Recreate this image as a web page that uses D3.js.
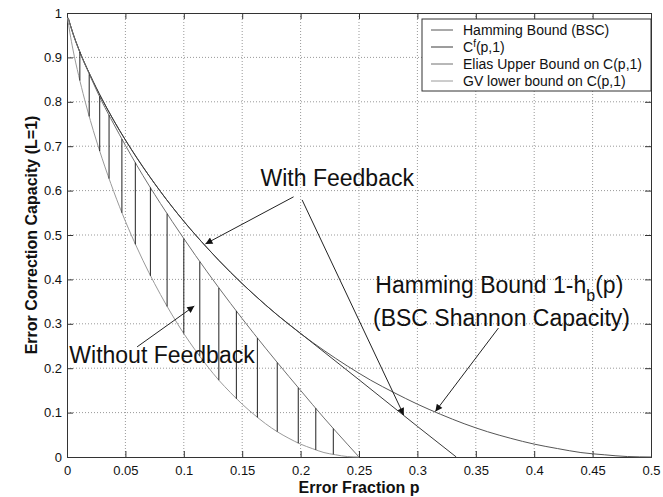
<!DOCTYPE html>
<html>
<head>
<meta charset="utf-8">
<script src="https://cdn.jsdelivr.net/npm/d3@7"></script>
<style>
  body { margin: 0; background: #fff; }
  svg { display: block; font-family: "Liberation Sans", Arial, sans-serif; }
</style>
</head>
<body>
<div class="chart"></div>
<script>
"use strict";

// values
const xTicks = [0, 0.05, 0.1, 0.15, 0.2, 0.25, 0.3, 0.35, 0.4, 0.45, 0.5];
const yTicks = [0, 0.1, 0.2, 0.3, 0.4, 0.5, 0.6, 0.7, 0.8, 0.9, 1];

const hammingP = [0.001, 0.005, 0.01, 0.02, 0.03, 0.04, 0.05, 0.06, 0.08, 0.10, 0.12, 0.14, 0.16, 0.18, 0.20, 0.22, 0.24, 0.26, 0.28, 0.30, 0.32, 0.34, 0.36, 0.38, 0.40, 0.42, 0.44, 0.46, 0.48, 0.50];
const hammingC = [0.989, 0.955, 0.919, 0.859, 0.806, 0.758, 0.714, 0.673, 0.598, 0.531, 0.471, 0.416, 0.366, 0.320, 0.278, 0.240, 0.205, 0.173, 0.145, 0.119, 0.096, 0.075, 0.057, 0.042, 0.029, 0.019, 0.010, 0.005, 0.001, 0];

const feedbackP = [0.001, 0.005, 0.01, 0.02, 0.03, 0.04, 0.05, 0.06, 0.08, 0.10, 0.12, 0.14, 0.16, 0.18, 0.191, 0.25, 0.30, 0.3333];
const feedbackC = [0.989, 0.955, 0.919, 0.859, 0.806, 0.758, 0.714, 0.673, 0.598, 0.531, 0.471, 0.416, 0.366, 0.320, 0.297, 0.174, 0.069, 0];

const eliasP = [0.001, 0.005, 0.01, 0.02, 0.03, 0.04, 0.05, 0.06, 0.08, 0.10, 0.12, 0.14, 0.16, 0.18, 0.20, 0.22, 0.24, 0.25];
const eliasC = [0.989, 0.954, 0.918, 0.857, 0.800, 0.750, 0.702, 0.656, 0.571, 0.492, 0.417, 0.346, 0.278, 0.213, 0.150, 0.088, 0.029, 0];

const gvP = [0.0005, 0.0025, 0.005, 0.01, 0.015, 0.02, 0.025, 0.03, 0.04, 0.05, 0.06, 0.07, 0.08, 0.09, 0.10, 0.11, 0.12, 0.13, 0.14, 0.15, 0.16, 0.17, 0.18, 0.19, 0.20, 0.21, 0.22, 0.23, 0.24, 0.25];
const gvC = [0.989, 0.955, 0.919, 0.859, 0.806, 0.758, 0.714, 0.673, 0.598, 0.531, 0.471, 0.416, 0.366, 0.320, 0.278, 0.240, 0.205, 0.173, 0.145, 0.119, 0.096, 0.075, 0.057, 0.042, 0.029, 0.019, 0.010, 0.005, 0.001, 0];

// vertical hatch between the Elias and GV bounds
const hatchP = [0.011, 0.019, 0.028, 0.036, 0.047, 0.0585, 0.0714, 0.0857, 0.100, 0.1137, 0.130, 0.145, 0.163, 0.180, 0.198, 0.213, 0.228];
const hatchTop = [0.912, 0.862, 0.812, 0.770, 0.716, 0.663, 0.607, 0.548, 0.492, 0.440, 0.381, 0.329, 0.268, 0.213, 0.156, 0.110, 0.064];
const hatchBottom = [0.848, 0.767, 0.689, 0.627, 0.550, 0.479, 0.408, 0.339, 0.278, 0.227, 0.173, 0.131, 0.089, 0.057, 0.031, 0.016, 0.006];

const legendNames = ["Hamming Bound (BSC)", "Cf(p,1)", "Elias Upper Bound on C(p,1)", "GV lower bound on C(p,1)"];
const seriesColors = ["#555", "#3a3a3a", "#707070", "#9a9a9a"];

const margin = {top: 13, right: 12, bottom: 40, left: 67};
const width = 663 - margin.left - margin.right;
const height = 497 - margin.top - margin.bottom;

const x = d3.scaleLinear().domain([0, 0.5]).range([0, width]);
const y = d3.scaleLinear().domain([0, 1]).range([height, 0]);

const svg = d3.select(".chart").append("svg")
    .attr("width", 663)
    .attr("height", 497);

const defs = svg.append("defs");
defs.append("marker")
    .attr("id", "arrow")
    .attr("viewBox", "0 0 10 10")
    .attr("refX", 10).attr("refY", 5)
    .attr("markerWidth", 9).attr("markerHeight", 7)
    .attr("markerUnits", "userSpaceOnUse")
    .attr("orient", "auto")
    .append("path")
    .attr("d", "M0,0 L10,5 L0,10 z")
    .style("fill", "#111");

const g = svg.append("g")
    .attr("transform", "translate(" + margin.left + "," + margin.top + ")");

// dotted grid
g.append("g").selectAll("line")
    .data(xTicks.slice(1, -1))
    .enter().append("line")
    .attr("x1", d => x(d)).attr("x2", d => x(d))
    .attr("y1", 0).attr("y2", height)
    .style("stroke", "#999").style("stroke-dasharray", "1,2");
g.append("g").selectAll("line")
    .data(yTicks.slice(1, -1))
    .enter().append("line")
    .attr("y1", d => y(d)).attr("y2", d => y(d))
    .attr("x1", 0).attr("x2", width)
    .style("stroke", "#999").style("stroke-dasharray", "1,2");

// axes, MATLAB style: ticks inside, box on all sides
const xAxis = d3.axisBottom(x).tickValues(xTicks).tickSize(-6).tickPadding(9)
    .tickFormat(d => d3.format("")(d));
const yAxis = d3.axisLeft(y).tickValues(yTicks).tickSize(-6).tickPadding(5)
    .tickFormat(d => d3.format("")(d));

g.append("g")
    .attr("class", "x axis")
    .attr("transform", "translate(0," + height + ")")
    .call(xAxis);
g.append("g")
    .attr("class", "y axis")
    .call(yAxis);
g.append("g")
    .call(d3.axisTop(x).tickValues(xTicks).tickSize(-6).tickFormat(""));
g.append("g")
    .attr("transform", "translate(" + width + ",0)")
    .call(d3.axisRight(y).tickValues(yTicks).tickSize(-6).tickFormat(""));

g.selectAll(".domain").style("stroke", "#333");
g.selectAll(".tick line").style("stroke", "#333");
g.selectAll(".tick text").style("font-size", "13px").style("fill", "#111");

// curves
const line = d3.line()
    .x(d => x(d[0]))
    .y(d => y(d[1]))
    .curve(d3.curveMonotoneX);

const series = [
    d3.zip(hammingP, hammingC),
    d3.zip(feedbackP, feedbackC),
    d3.zip(eliasP, eliasC),
    d3.zip(gvP, gvC)
];

series.forEach(function (pts, i) {
    g.append("path")
        .attr("d", line(pts))
        .style("fill", "none")
        .style("stroke", seriesColors[i])
        .style("stroke-width", "1px");
});

g.append("g").selectAll("line")
    .data(d3.range(hatchP.length))
    .enter().append("line")
    .attr("x1", i => x(hatchP[i])).attr("x2", i => x(hatchP[i]))
    .attr("y1", i => y(hatchTop[i])).attr("y2", i => y(hatchBottom[i]))
    .style("stroke", "#222").style("stroke-width", "1px");

// annotations
const notes = g.append("g").style("font-size", "23px").style("fill", "#111");

notes.append("text")
    .attr("x", x(0.1657)).attr("y", y(0.611))
    .text("With Feedback");
notes.append("text")
    .attr("x", x(0.002)).attr("y", y(0.212))
    .text("Without Feedback");
const hb = notes.append("text")
    .attr("x", x(0.264)).attr("y", y(0.369));
hb.append("tspan").text("Hamming Bound 1-h");
hb.append("tspan").attr("dy", 8).style("font-size", "16px").text("b");
hb.append("tspan").attr("dy", -8).text("(p)");
notes.append("text")
    .attr("x", x(0.262)).attr("y", y(0.295))
    .text("(BSC Shannon Capacity)");

const arrows = [
    [0.194, 0.586, 0.1185, 0.480],
    [0.2013, 0.579, 0.2883, 0.0946],
    [0.060, 0.248, 0.109, 0.340],
    [0.3694, 0.2905, 0.3154, 0.1025]
];
g.append("g").selectAll("line")
    .data(arrows)
    .enter().append("line")
    .attr("x1", d => x(d[0])).attr("y1", d => y(d[1]))
    .attr("x2", d => x(d[2])).attr("y2", d => y(d[3]))
    .attr("marker-end", "url(#arrow)")
    .style("stroke", "#222").style("stroke-width", "1px");

// legend
const legend = g.append("g")
    .attr("transform", "translate(" + (width - 229) + ",6)");
legend.append("rect")
    .attr("width", 229).attr("height", 72)
    .style("fill", "#fff").style("stroke", "#333");
const item = legend.selectAll(".item")
    .data(legendNames)
    .enter().append("g")
    .attr("transform", (d, i) => "translate(0," + (11 + i * 17) + ")");
item.append("line")
    .attr("x1", 9).attr("x2", 31)
    .style("stroke", (d, i) => seriesColors[i]);
const lt = item.append("text")
    .attr("x", 41).attr("dy", "0.35em")
    .style("font-size", "14px").style("fill", "#111");
lt.each(function (d) {
    const t = d3.select(this);
    if (d === "Cf(p,1)") {
        t.append("tspan").text("C");
        t.append("tspan").attr("dy", -5).style("font-size", "10px").text("f");
        t.append("tspan").attr("dy", 5).text("(p,1)");
    } else {
        t.text(d);
    }
});

// axis labels
svg.append("text")
    .attr("x", margin.left + width / 2).attr("y", 493)
    .attr("text-anchor", "middle")
    .style("font-size", "16px").style("font-weight", "bold").style("fill", "#111")
    .text("Error Fraction p");
svg.append("text")
    .attr("transform", "translate(37," + (margin.top + height / 2) + ") rotate(-90)")
    .attr("text-anchor", "middle")
    .style("font-size", "16px").style("font-weight", "bold").style("fill", "#111")
    .text("Error Correction Capacity (L=1)");
</script>
</body>
</html>
